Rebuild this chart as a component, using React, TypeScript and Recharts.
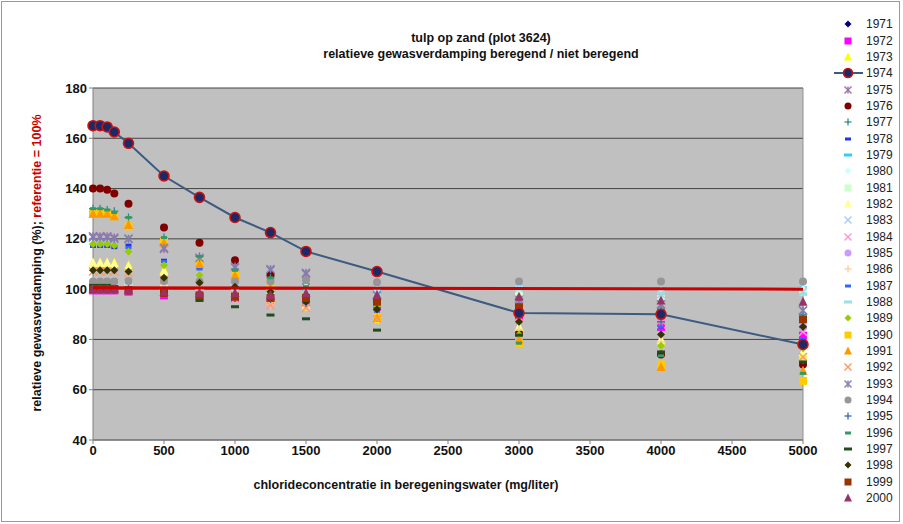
import React from "react";
import {
  ScatterChart,
  Scatter,
  XAxis,
  YAxis,
  CartesianGrid,
  ReferenceLine,
} from "recharts";

const X_VALUES = [0, 50, 100, 150, 250, 500, 750, 1000, 1250, 1500, 2000, 3000, 4000, 5000];
const X_TICKS = [0, 500, 1000, 1500, 2000, 2500, 3000, 3500, 4000, 4500, 5000];
const Y_TICKS = [40, 60, 80, 100, 120, 140, 160, 180];

// relatieve gewasverdamping (%) per jaar, bij elke chlorideconcentratie
const y1971 = [100, 100, 100, 100, 99.5, 98.8, 98, 97.5, 96.5, 95.5, 94, 90.5, 91, 79];
const y1972 = [99.5, 99.5, 99.5, 99.5, 99, 97.5, 97, 96.5, 95.5, 94.5, 93, 89, 85, 81.5];
const y1973 = [110.5, 110.5, 110.5, 110.5, 109.5, 107.5, 103, 100, 96, 93, 88, 84.5, 79, 74];
const y1974 = [165, 165, 164.5, 162.5, 158, 145, 136.5, 128.5, 122.5, 115, 107, 90.5, 90, 78];
const y1975 = [121, 121, 121, 120.5, 120, 116, 112, 108.5, 107.5, 106, 97, 96, 93.5, 91.5];
const y1976 = [140, 140, 139.5, 138, 134, 124.5, 118.5, 111.5, 105.5, 97, 95, 82.5, 74, 70];
const y1977 = [132, 132, 131.5, 131, 128.5, 120.5, 113, 108, 104.5, 102, 99, 96, 92, 90];
const y1978 = [117, 117, 117, 116.5, 117.5, 111.5, 108.5, 104, 99, 95, 92, 88, 85, 79];
const y1979 = [101, 101, 101, 101, 100.5, 100, 99.5, 100, 99.5, 100, 99.5, 101.5, 100, 100.5];
const y1980 = [101.5, 101.5, 101.5, 101.5, 101.5, 101.5, 101, 101, 101, 101, 100, 101, 99.5, 100];
const y1981 = [102, 102, 102, 102, 102, 101.5, 100, 98.5, 97.5, 96.5, 95, 99, 96, 99];
const y1982 = [110.5, 110.5, 110.5, 110, 109, 107, 102, 99.5, 96, 93.5, 89, 85, 80, 75];
const y1983 = [101, 101, 101, 101, 101, 101, 100.5, 100.5, 100.5, 100, 99.5, 100.5, 98, 99];
const y1984 = [100, 100, 100, 100, 99.5, 98.5, 97, 96, 94.5, 93, 91, 89, 86, 83];
const y1985 = [100.5, 100.5, 100.5, 100.5, 100, 99.5, 98.5, 98.5, 97, 96, 94, 91.5, 88, 85];
const y1986 = [103, 103, 103, 103, 103, 102, 100, 97, 94, 93, 89, 84, 79, 72];
const y1987 = [117.5, 117.5, 117.5, 117, 116.5, 111, 108, 103.5, 98.5, 94.5, 91, 87, 85, 80];
const y1988 = [101.5, 101.5, 101.5, 101.5, 101, 100.5, 100, 99.5, 99, 98.5, 98, 100, 98.5, 98];
const y1989 = [118, 118, 118, 117.5, 115, 109.5, 105.5, 104, 100.5, 96, 93, 82, 77.5, 76.5];
const y1990 = [130, 130, 130, 129, 125, 119, 110.5, 106, 101, 97, 89, 78.5, 70, 63.5];
const y1991 = [130, 130, 130, 129, 125.5, 118.5, 110, 105.5, 100.5, 96.5, 88.5, 80, 69, 67.5];
const y1992 = [107, 107, 107, 107, 106.5, 103.5, 100, 97.5, 93.5, 92.5, 88, 88.5, 87.5, 73];
const y1993 = [120.5, 120.5, 120.5, 120, 120, 116.5, 112.5, 109, 108, 106.5, 97.5, 95, 94, 91.5];
const y1994 = [103, 103, 103, 103, 103.2, 103.2, 103, 103, 103, 103.5, 102.7, 103, 103, 103];
const y1995 = [100.5, 100.5, 100.5, 100, 100, 99, 98, 97, 96, 94.5, 92.5, 90, 87, 85];
const y1996 = [132, 132, 131.5, 130.5, 128.5, 120.5, 113, 107.5, 104.5, 101, 97, 78.5, 73.5, 66.5];
const y1997 = [101.5, 101.5, 101.5, 101, 100.5, 98, 95.5, 93, 89.7, 88.2, 83.7, 81.7, 75, 71];
const y1998 = [107.5, 107.5, 107.5, 107.5, 107, 104.5, 102.5, 101, 99, 95, 92, 87, 82, 85];
const y1999 = [100, 100, 100, 100, 99.5, 98.5, 97.5, 97, 96.5, 96.5, 95, 92.8, 90, 88];
const y2000 = [100, 100, 100, 100, 99.5, 99, 98.5, 98.5, 97.7, 98.5, 97.7, 97, 95.5, 95];

const REFERENCE_X = [0, 5000];
const REFERENCE_Y = [100.6, 100];

const SERIES = [
  { name: "1971", values: y1971, kind: "diamond", color: "#000080" },
  { name: "1972", values: y1972, kind: "square", color: "#FF00FF" },
  { name: "1973", values: y1973, kind: "triangle", color: "#FFFF00" },
  { name: "1974", values: y1974, kind: "ring", color: "#1B2A66" },
  { name: "1975", values: y1975, kind: "star", color: "#A070B0" },
  { name: "1976", values: y1976, kind: "circle", color: "#800000" },
  { name: "1977", values: y1977, kind: "plus", color: "#2E8B8B" },
  { name: "1978", values: y1978, kind: "shortdash", color: "#2233EE" },
  { name: "1979", values: y1979, kind: "dash", color: "#33CCFF" },
  { name: "1980", values: y1980, kind: "diamond", color: "#CCFFFF" },
  { name: "1981", values: y1981, kind: "square", color: "#CCFFCC" },
  { name: "1982", values: y1982, kind: "triangle", color: "#FFFF99" },
  { name: "1983", values: y1983, kind: "x", color: "#AACCFF" },
  { name: "1984", values: y1984, kind: "x", color: "#FF99CC" },
  { name: "1985", values: y1985, kind: "circle", color: "#CC99FF" },
  { name: "1986", values: y1986, kind: "plus", color: "#FFCC99" },
  { name: "1987", values: y1987, kind: "shortdash", color: "#3366FF" },
  { name: "1988", values: y1988, kind: "dash", color: "#99E0E0" },
  { name: "1989", values: y1989, kind: "diamond", color: "#99CC00" },
  { name: "1990", values: y1990, kind: "square", color: "#FFCC00" },
  { name: "1991", values: y1991, kind: "triangle", color: "#FF9900" },
  { name: "1992", values: y1992, kind: "x", color: "#FF9966" },
  { name: "1993", values: y1993, kind: "star", color: "#8080B0" },
  { name: "1994", values: y1994, kind: "circle", color: "#969696" },
  { name: "1995", values: y1995, kind: "plus", color: "#3366AA" },
  { name: "1996", values: y1996, kind: "shortdash", color: "#339966" },
  { name: "1997", values: y1997, kind: "dash", color: "#1E4D1E" },
  { name: "1998", values: y1998, kind: "diamond", color: "#333300" },
  { name: "1999", values: y1999, kind: "square", color: "#993300" },
  { name: "2000", values: y2000, kind: "triangle", color: "#993366" },
];

const FONT = "'Liberation Sans', Arial, sans-serif";

function Marker({ kind, color, cx, cy, s = 4 }: { kind: string; color: string; cx: number; cy: number; s?: number }) {
  switch (kind) {
    case "diamond":
      return <polygon points={`${cx},${cy - s} ${cx + s},${cy} ${cx},${cy + s} ${cx - s},${cy}`} fill={color} />;
    case "square":
      return <rect x={cx - s} y={cy - s} width={2 * s} height={2 * s} fill={color} />;
    case "triangle":
      return <polygon points={`${cx},${cy - s - 1} ${cx + s + 0.5},${cy + s} ${cx - s - 0.5},${cy + s}`} fill={color} />;
    case "circle":
      return <circle cx={cx} cy={cy} r={s} fill={color} />;
    case "ring":
      return <circle cx={cx} cy={cy} r={s + 1} fill={color} stroke="#CC1111" strokeWidth={1.6} />;
    case "x":
      return (
        <g stroke={color} strokeWidth={1.5}>
          <line x1={cx - s} y1={cy - s} x2={cx + s} y2={cy + s} />
          <line x1={cx - s} y1={cy + s} x2={cx + s} y2={cy - s} />
        </g>
      );
    case "star":
      return (
        <g stroke={color} strokeWidth={1.4}>
          <line x1={cx - s} y1={cy - s} x2={cx + s} y2={cy + s} />
          <line x1={cx - s} y1={cy + s} x2={cx + s} y2={cy - s} />
          <line x1={cx} y1={cy - s} x2={cx} y2={cy + s} />
        </g>
      );
    case "plus":
      return (
        <g stroke={color} strokeWidth={1.3}>
          <line x1={cx - s} y1={cy} x2={cx + s} y2={cy} />
          <line x1={cx} y1={cy - s} x2={cx} y2={cy + s} />
        </g>
      );
    case "shortdash":
      return <rect x={cx - 3} y={cy - 1.5} width={6} height={3} fill={color} />;
    case "dash":
      return <rect x={cx - 4} y={cy - 1.5} width={8} height={3} fill={color} />;
    default:
      return <circle cx={cx} cy={cy} r={s} fill={color} />;
  }
}

const makeShape = (kind: string, color: string) => (props: any) =>
  <Marker kind={kind} color={color} cx={props.cx} cy={props.cy} />;

const seriesData = (values: number[]) => X_VALUES.map((x, i) => ({ x, y: values[i] }));
const referenceData = REFERENCE_X.map((x, i) => ({ x, y: REFERENCE_Y[i] }));

function LegendBlock() {
  return (
    <div style={{ position: "absolute", left: 832, top: 16, fontFamily: FONT, fontSize: 12, color: "#222" }}>
      {SERIES.map((s) => (
        <div key={s.name} style={{ height: 16.35, display: "flex", alignItems: "center" }}>
          <svg width={32} height={16} style={{ display: "block" }}>
            {s.kind === "ring" && <line x1={2} y1={8} x2={31} y2={8} stroke="#3D5A80" strokeWidth={2} />}
            <Marker kind={s.kind} color={s.color} cx={16} cy={8} s={3.5} />
          </svg>
          <span style={{ marginLeft: 2 }}>{s.name}</span>
        </div>
      ))}
    </div>
  );
}

export default function App() {
  return (
    <div style={{ position: "absolute", left: 0, top: 0, width: 903, height: 524, background: "#fff", fontFamily: FONT }}>
      <div style={{ position: "absolute", left: 1, top: 1, width: 897, height: 519, border: "1px solid #9a9a9a" }} />
      <div style={{ position: "absolute", left: 281, width: 400, top: 30, textAlign: "center", fontWeight: "bold", fontSize: 12.5, lineHeight: "16px", color: "#111" }}>
        tulp op zand (plot 3624)
        <br />
        relatieve gewasverdamping beregend / niet beregend
      </div>
      <ScatterChart width={903} height={524} margin={{ top: 88, right: 100, bottom: 54, left: 33 }} style={{ position: "absolute", left: 0, top: 0 }}>
        <CartesianGrid fill="#C0C0C0" stroke="#444" vertical={false} />
        <XAxis
          type="number"
          dataKey="x"
          domain={[0, 5000]}
          ticks={X_TICKS}
          height={30}
          tick={{ fill: "#111", fontSize: 13, fontWeight: "bold", fontFamily: FONT }}
          stroke="#808080"
          tickSize={4}
        />
        <YAxis
          type="number"
          dataKey="y"
          domain={[40, 180]}
          ticks={Y_TICKS}
          width={60}
          tick={{ fill: "#111", fontSize: 13, fontWeight: "bold", fontFamily: FONT }}
          stroke="#808080"
          tickSize={4}
        />
        <ReferenceLine x={5000} stroke="#909090" />
        {SERIES.filter((s) => s.kind !== "ring").map((s) => (
          <Scatter
            key={s.name}
            name={s.name}
            data={seriesData(s.values)}
            shape={makeShape(s.kind, s.color)}
            isAnimationActive={false}
          />
        ))}
        {SERIES.filter((s) => s.kind === "ring").map((s) => (
          <Scatter
            key={s.name}
            name={s.name}
            data={seriesData(s.values)}
            shape={makeShape(s.kind, s.color)}
            line={{ stroke: "#3D5A80", strokeWidth: 2 }}
            lineJointType="linear"
            isAnimationActive={false}
          />
        ))}
        <Scatter
          name="referentie"
          data={referenceData}
          shape={() => <g />}
          line={{ stroke: "#CC0000", strokeWidth: 3 }}
          lineJointType="linear"
          isAnimationActive={false}
        />
      </ScatterChart>
      <svg width={60} height={524} style={{ position: "absolute", left: 0, top: 0 }}>
        <text
          transform="translate(41,263) rotate(-90)"
          textAnchor="middle"
          fontFamily={FONT}
          fontWeight="bold"
          fontSize={12.5}
          fill="#111"
        >
          relatieve gewasverdamping (%); <tspan fill="#CC0000">referentie = 100%</tspan>
        </text>
      </svg>
      <div style={{ position: "absolute", left: 206, width: 400, top: 478, textAlign: "center", fontWeight: "bold", fontSize: 12.5, color: "#111" }}>
        chlorideconcentratie in beregeningswater (mg/liter)
      </div>
      <LegendBlock />
    </div>
  );
}
